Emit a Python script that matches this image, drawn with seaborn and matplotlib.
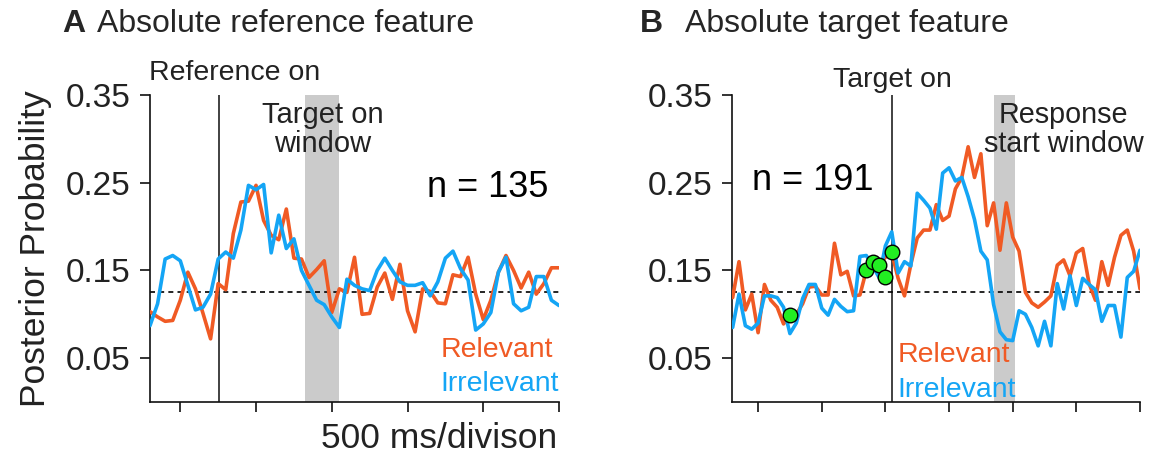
import numpy as np
import pandas as pd
import matplotlib
matplotlib.use("Agg")
import matplotlib.pyplot as plt
import seaborn as sns

# ---------------- data ----------------
# Panel A: time (ms) sampled every 50 ms
time_a = np.arange(-200, 2501, 50)
relevant_a = [0.103, 0.097, 0.092, 0.093, 0.116, 0.148, 0.129, 0.101, 0.072, 0.135,
              0.128, 0.192, 0.228, 0.229, 0.247, 0.207, 0.190, 0.185, 0.220, 0.164,
              0.163, 0.142, 0.151, 0.161, 0.102, 0.129, 0.125, 0.165, 0.100, 0.101,
              0.131, 0.147, 0.117, 0.157, 0.104, 0.080, 0.129, 0.126, 0.113, 0.112,
              0.145, 0.143, 0.165, 0.123, 0.094, 0.116, 0.148, 0.167, 0.150, 0.130,
              0.148, 0.123, 0.135, 0.153, 0.153]
irrelevant_a = [0.087, 0.112, 0.163, 0.167, 0.161, 0.133, 0.105, 0.108, 0.123, 0.163,
                0.171, 0.164, 0.196, 0.247, 0.242, 0.248, 0.170, 0.213, 0.175, 0.186,
                0.150, 0.133, 0.116, 0.111, 0.097, 0.085, 0.140, 0.133, 0.129, 0.127,
                0.150, 0.164, 0.150, 0.137, 0.133, 0.133, 0.136, 0.121, 0.137, 0.164,
                0.172, 0.152, 0.139, 0.082, 0.089, 0.102, 0.148, 0.165, 0.112, 0.104,
                0.108, 0.143, 0.143, 0.116, 0.110]

# Panel B
time_b = np.arange(-200, 3001, 50)
relevant_b = [0.119, 0.160, 0.105, 0.123, 0.079, 0.134, 0.116, 0.108, 0.089, 0.099,
              0.100, 0.112, 0.131, 0.132, 0.122, 0.122, 0.181, 0.145, 0.149, 0.121,
              0.122, 0.150, 0.160, 0.157, 0.165, 0.170, 0.141, 0.121, 0.157, 0.187,
              0.196, 0.196, 0.225, 0.207, 0.212, 0.243, 0.256, 0.291, 0.256, 0.283,
              0.201, 0.227, 0.173, 0.227, 0.188, 0.172, 0.125, 0.113, 0.108, 0.114,
              0.121, 0.156, 0.162, 0.144, 0.170, 0.175, 0.135, 0.116, 0.160, 0.133,
              0.165, 0.190, 0.196, 0.172, 0.129]
irrelevant_b = [0.085, 0.123, 0.087, 0.083, 0.090, 0.121, 0.121, 0.119, 0.108, 0.078,
                0.090, 0.118, 0.134, 0.134, 0.107, 0.099, 0.117, 0.109, 0.103, 0.104,
                0.166, 0.167, 0.155, 0.142, 0.178, 0.194, 0.147, 0.160, 0.155, 0.238,
                0.230, 0.221, 0.197, 0.261, 0.267, 0.252, 0.256, 0.234, 0.208, 0.172,
                0.162, 0.111, 0.080, 0.071, 0.070, 0.104, 0.100, 0.085, 0.064, 0.092,
                0.064, 0.135, 0.106, 0.144, 0.110, 0.141, 0.134, 0.128, 0.092, 0.110,
                0.110, 0.074, 0.142, 0.149, 0.173]

# green markers in panel B
dots_t = [250, 850, 900, 950, 1000, 1050]
dots_v = [0.099, 0.150, 0.160, 0.156, 0.142, 0.171]

chance = 0.125
event_a = 258            # Reference on
window_a = (826, 1050)   # Target on window
event_b = 1052           # Target on
window_b = (1852, 2017)  # Response start window

yticks = [0.05, 0.15, 0.25, 0.35]
ytick_labels = ["0.05", "0.15", "0.25", "0.35"]
xticks_a = [0, 500, 1000, 1500, 2000, 2500]
xticks_b = [0, 500, 1000, 1500, 2000, 2500, 3000]

# ---------------- style ----------------
sns.set_style("ticks")
plt.rcParams["font.family"] = ["Liberation Sans", "DejaVu Sans"]

ORANGE = "#F05A24"
BLUE = "#14A5F5"
palette = {"Relevant": ORANGE, "Irrelevant": BLUE}

fig = plt.figure(figsize=(11.51, 4.55), dpi=100)
axA = fig.add_axes([150/1151, 53/455, 409/1151, 307/455])
axB = fig.add_axes([732/1151, 53/455, 408/1151, 307/455])

def long_df(t, rel, irr):
    return pd.concat([
        pd.DataFrame({"t": t, "p": rel, "cond": "Relevant"}),
        pd.DataFrame({"t": t, "p": irr, "cond": "Irrelevant"}),
    ], ignore_index=True)

dfA = long_df(time_a, relevant_a, irrelevant_a)
dfB = long_df(time_b, relevant_b, irrelevant_b)

for ax, df, ev, win, xt, xlim in [
    (axA, dfA, event_a, window_a, xticks_a, (-200, 2500)),
    (axB, dfB, event_b, window_b, xticks_b, (-205, 3000)),
]:
    ax.axvspan(win[0], win[1], color="#CBCBCB", lw=0, zorder=0)
    ax.axvline(ev, color="#333333", lw=1.3, zorder=1)
    ax.axhline(chance, color="black", lw=1.2, ls=(0, (3, 2.5)), zorder=2)
    sns.lineplot(data=df, x="t", y="p", hue="cond", palette=palette,
                 hue_order=["Relevant", "Irrelevant"], lw=2.6, ax=ax,
                 legend=False, zorder=3)
    ax.set_xlim(*xlim)
    ax.set_ylim(0, 0.35)
    ax.set_yticks(yticks)
    ax.set_yticklabels(ytick_labels)
    ax.set_xticks(xt)
    ax.set_xticklabels([])
    ax.set_xlabel("")
    ax.set_ylabel("")
    for s in ["top", "right"]:
        ax.spines[s].set_visible(False)
    for s in ["left", "bottom"]:
        ax.spines[s].set_linewidth(1.2)
        ax.spines[s].set_color("#111111")
    ax.tick_params(axis="both", length=7, width=1.2, color="#111111",
                   labelsize=24, pad=7, labelcolor="#222222")
    ax.set_facecolor("none")

# green markers
sns.scatterplot(x=dots_t, y=dots_v, ax=axB, color="#22EE22", edgecolor="black",
                s=110, linewidth=1.0, zorder=5, legend=False)

axA.set_ylabel("Posterior Probability", fontsize=25.5, color="#222222", labelpad=10)

# annotations panel A
axA.text(0.207, 1.03, "Reference on", transform=axA.transAxes, ha="center",
         va="bottom", fontsize=20.5, color="#222222")
axA.text(938, 0.343, "Target on\nwindow", ha="center", va="top", fontsize=21,
         color="#222222", linespacing=1.05)
axA.text(0.975, 0.70, "n = 135", transform=axA.transAxes, ha="right", va="center",
         fontsize=26, color="black")
axA.text(0.71, 0.169, "Relevant", transform=axA.transAxes, ha="left", va="center",
         fontsize=20.5, color=ORANGE)
axA.text(0.71, 0.059, "Irrelevant", transform=axA.transAxes, ha="left", va="center",
         fontsize=20.5, color=BLUE)
fig.text(557/1151, 1 - 438/455, "500 ms/divison", ha="right", va="center",
         fontsize=25.5, color="#222222")

# annotations panel B
axB.text(event_b, 0.352, "Target on", ha="center", va="bottom", fontsize=20.5,
         color="#222222")
axB.text(2400, 0.343, "Response\nstart window", ha="center", va="top",
         fontsize=20.7, color="#222222", linespacing=1.05)
axB.text(0.05, 0.72, "n = 191", transform=axB.transAxes, ha="left", va="center",
         fontsize=26, color="black")
axB.text(0.405, 0.154, "Relevant", transform=axB.transAxes, ha="left", va="center",
         fontsize=20.5, color=ORANGE)
axB.text(0.405, 0.039, "Irrelevant", transform=axB.transAxes, ha="left", va="center",
         fontsize=20.5, color=BLUE)

# panel titles
fig.text(62/1151, 1 - 24/455, "A", fontsize=23, fontweight="bold", ha="left",
         va="center")
fig.text(97/1151, 1 - 24/455, "Absolute reference feature", fontsize=23,
         ha="left", va="center")
fig.text(640/1151, 1 - 24/455, "B", fontsize=23, fontweight="bold", ha="left",
         va="center")
fig.text(685/1151, 1 - 24/455, "Absolute target feature", fontsize=23,
         ha="left", va="center")

fig.savefig("out.png", dpi=100, facecolor="white")
